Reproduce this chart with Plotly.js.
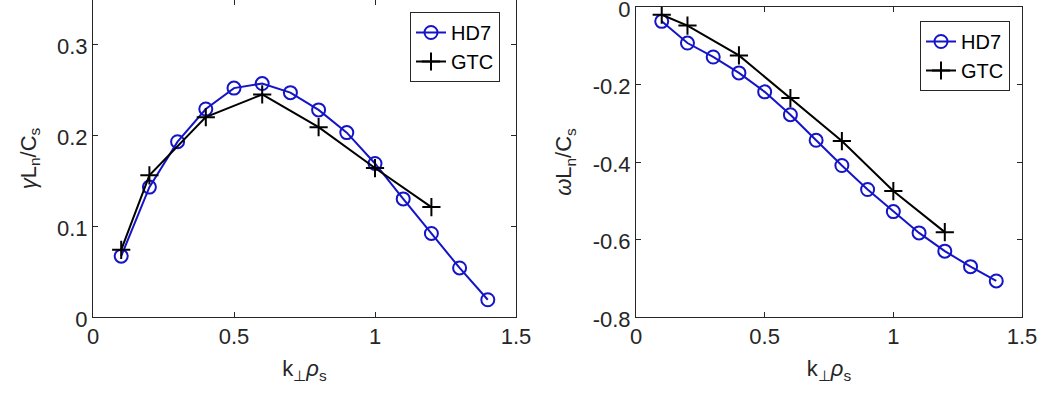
<!DOCTYPE html>
<html>
<head>
<meta charset="utf-8">
<script src="https://cdn.plot.ly/plotly-3.0.1.min.js"></script>
<style>html,body{margin:0;padding:0;background:#fff;}#chart{width:1054px;height:407px;}</style>
</head>
<body>
<div id="chart"></div>
<script>
// Data
const hd7K = [0.1,0.2,0.3,0.4,0.5,0.6,0.7,0.8,0.9,1.0,1.1,1.2,1.3,1.4];
const hd7Gamma = [0.067,0.143,0.193,0.229,0.252,0.257,0.247,0.228,0.203,0.169,0.130,0.092,0.054,0.019];
const hd7Omega = [-0.037,-0.093,-0.129,-0.170,-0.219,-0.278,-0.344,-0.409,-0.471,-0.528,-0.583,-0.630,-0.670,-0.707];
const gtcK = [0.1,0.2,0.4,0.6,0.8,1.0,1.2];
const gtcGamma = [0.074,0.156,0.220,0.245,0.209,0.164,0.121];
const gtcOmega = [-0.020,-0.048,-0.125,-0.235,-0.346,-0.475,-0.581];
const seriesNames = ['HD7','GTC'];
const xTicks = [0,0.5,1,1.5];
const xTickText = ['0','0.5','1','1.5'];
const gammaTicks = [0,0.1,0.2,0.3];
const gammaTickText = ['0','0.1','0.2','0.3'];
const omegaTicks = [-0.8,-0.6,-0.4,-0.2,0];
const omegaTickText = ['-0.8','-0.6','-0.4','-0.2','0'];

const blue = '#1414c8';
const axisColor = '#262626';
const font = 'Liberation Sans, Arial, sans-serif';

function hd7(x, y, xa, ya, leg) {
  return {x, y, xaxis: xa, yaxis: ya, name: seriesNames[0], mode: 'lines+markers', legend: leg,
    line: {color: blue, width: 2},
    marker: {symbol: 'circle-open', size: 13, color: blue, line: {width: 2, color: blue}}};
}
function gtc(x, y, xa, ya, leg) {
  return {x, y, xaxis: xa, yaxis: ya, name: seriesNames[1], mode: 'lines+markers', legend: leg,
    line: {color: '#000', width: 2},
    marker: {symbol: 'cross-thin-open', size: 13, color: '#000', line: {width: 2, color: '#000'}}};
}

const traces = [
  hd7(hd7K, hd7Gamma, 'x', 'y', 'legend'),
  gtc(gtcK, gtcGamma, 'x', 'y', 'legend'),
  hd7(hd7K, hd7Omega, 'x2', 'y2', 'legend2'),
  gtc(gtcK, gtcOmega, 'x2', 'y2', 'legend2')
];

const axCommon = {
  showgrid: false, zeroline: false, showline: true, linecolor: axisColor, linewidth: 1,
  mirror: 'ticks', ticks: 'inside', ticklen: 5, tickcolor: axisColor,
  tickfont: {family: font, size: 22, color: axisColor}, automargin: false, fixedrange: true,
  ticklabeloverflow: 'allow'
};
const xTitle = {text: 'k<sub>⊥</sub><i>ρ</i><sub>s</sub>', font: {family: font, size: 22, color: axisColor}, standoff: 12};

const legCommon = {
  bgcolor: '#fff', bordercolor: '#262626', borderwidth: 1,
  font: {family: font, size: 20, color: '#000'}, xanchor: 'right', yanchor: 'top',
  tracegroupgap: 0, itemwidth: 30
};

const layout = {
  width: 1054, height: 407,
  margin: {l: 0, r: 0, t: 0, b: 0},
  paper_bgcolor: '#fff', plot_bgcolor: '#fff',
  showlegend: true,
  xaxis: Object.assign({}, axCommon, {domain: [93/1054, 516/1054], range: [0, 1.5], tickvals: xTicks, ticktext: xTickText, anchor: 'y', title: xTitle}),
  yaxis: Object.assign({}, axCommon, {domain: [90/407, 1], range: [0, 0.349], tickvals: gammaTicks, ticktext: gammaTickText, anchor: 'x',
    ticklabelshift: 2,
    title: {text: '<i>γ</i>L<sub>n</sub>/C<sub>s</sub>', font: {family: font, size: 22, color: axisColor}, standoff: 14}}),
  xaxis2: Object.assign({}, axCommon, {domain: [636/1054, 1022/1054], range: [0, 1.5], tickvals: xTicks, ticktext: xTickText, anchor: 'y2', title: xTitle}),
  yaxis2: Object.assign({}, axCommon, {domain: [90/407, 400/407], range: [-0.8, 0], tickvals: omegaTicks, ticktext: omegaTickText, anchor: 'x2',
    ticklabelshift: 2,
    title: {text: '<i>ω</i>L<sub>n</sub>/C<sub>s</sub>', font: {family: font, size: 22, color: axisColor}, standoff: 14}}),
  legend: Object.assign({}, legCommon, {x: 500/1054, y: 1 - 12/407, xref: 'paper', yref: 'paper'}),
  legend2: Object.assign({}, legCommon, {x: 1010/1054, y: 1 - 21/407, xref: 'paper', yref: 'paper'})
};

Plotly.newPlot('chart', traces, layout, {staticPlot: true, displayModeBar: false});
</script>
</body>
</html>
